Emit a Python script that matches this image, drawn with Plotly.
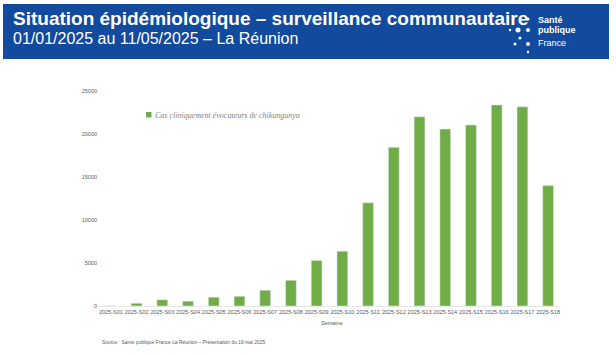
import plotly.graph_objects as go

weeks = ["2025-S01", "2025-S02", "2025-S03", "2025-S04", "2025-S05", "2025-S06",
         "2025-S07", "2025-S08", "2025-S09", "2025-S10", "2025-S11", "2025-S12",
         "2025-S13", "2025-S14", "2025-S15", "2025-S16", "2025-S17", "2025-S18"]
cases = [20, 320, 720, 560, 1020, 1130, 1830, 2990, 5300, 6370, 12000, 18450,
         22000, 20580, 21050, 23380, 23170, 14000]
y_ticks = [0, 5000, 10000, 15000, 20000, 25000]

series_name = "Cas cliniquement évocateurs de chikungunya"
title_line1 = "Situation épidémiologique – surveillance communautaire"
title_line2 = "01/01/2025 au 11/05/2025 – La Réunion"
source_text = "Source : Santé publique France La Réunion – Présentation du 19 mai 2025"

GREEN = "#70ad47"
BLUE = "#124a9d"

L, R, T, B = 98, 55, 91, 49
PW, PH = 616 - L - R, 355 - T - B

fig = go.Figure()
fig.add_trace(go.Bar(x=weeks, y=cases, name=series_name, marker_color=GREEN,
                     showlegend=False))

fig.update_layout(
    width=616, height=355,
    margin=dict(l=L, r=R, t=T, b=B),
    paper_bgcolor="white", plot_bgcolor="white",
    bargap=0.58,
    font=dict(family="Liberation Sans, Arial", color="#595959"),
    xaxis=dict(tickfont=dict(size=5.5, color="#595959"), showgrid=False,
               showline=True, linecolor="#e6e6e6", linewidth=1, ticks="",
               tickangle=0),
    yaxis=dict(range=[0, 25000], tickvals=y_ticks, tickformat="d",
               tickfont=dict(size=5.5, color="#595959"), showgrid=False,
               zeroline=False, showline=False, ticks=""),
)


def px_x(x):
    return (x - L) / float(PW)


def px_y(y):
    return (355 - B - y) / float(PH)


# Banner
fig.add_shape(type="rect", xref="paper", yref="paper",
              x0=px_x(3), x1=px_x(609), y0=px_y(59), y1=px_y(4),
              line_width=0, fillcolor=BLUE, layer="below")

fig.add_annotation(xref="paper", yref="paper", x=px_x(11), y=px_y(18),
                   xanchor="left", yanchor="middle", showarrow=False,
                   text="<b>" + title_line1 + "</b>",
                   font=dict(size=19, color="white", family="Liberation Sans, Arial"))
fig.add_annotation(xref="paper", yref="paper", x=px_x(11), y=px_y(38.5),
                   xanchor="left", yanchor="middle", showarrow=False,
                   text=title_line2,
                   font=dict(size=16, color="white", family="Liberation Sans, Arial"))

# Logo
for txt, yy, bold in [("Santé", 20, True), ("publique", 30.5, True), ("France", 43, False)]:
    fig.add_annotation(xref="paper", yref="paper", x=px_x(536), y=px_y(yy),
                       xanchor="left", yanchor="middle", showarrow=False,
                       text=("<b>%s</b>" % txt) if bold else txt,
                       font=dict(size=9, color="white", family="Liberation Sans, Arial"))
for cx, cy, r in [(528, 19, 1.5), (518, 30, 2.5), (528, 30, 2.0), (510, 30, 1.2),
                  (520, 38, 1.5), (515, 44, 1.5), (528, 44, 2.0), (528, 52, 1.2)]:
    fig.add_shape(type="circle", xref="paper", yref="paper",
                  x0=px_x(cx - r), x1=px_x(cx + r), y0=px_y(cy + r), y1=px_y(cy - r),
                  line_width=0, fillcolor="white")

# Legend
fig.add_shape(type="rect", xref="paper", yref="paper",
              x0=px_x(146), x1=px_x(151.5), y0=px_y(117.5), y1=px_y(112),
              line_width=0, fillcolor=GREEN)
fig.add_annotation(xref="paper", yref="paper", x=px_x(153), y=px_y(115),
                   xanchor="left", yanchor="middle", showarrow=False,
                   text="<i>" + series_name + "</i>",
                   font=dict(size=8, color="#7f7f7f", family="Liberation Serif, Times New Roman"))

# Axis title
fig.add_annotation(xref="paper", yref="paper", x=px_x(332), y=px_y(323),
                   xanchor="center", yanchor="middle", showarrow=False,
                   text="Semaine", font=dict(size=5.5, color="#595959"))

# Source
fig.add_annotation(xref="paper", yref="paper", x=px_x(100), y=px_y(342),
                   xanchor="left", yanchor="middle", showarrow=False,
                   text=source_text, font=dict(size=4.9, color="#595959"))

fig.write_html("out.html", config={"displayModeBar": False},
               post_script="document.body.style.margin='0';document.body.style.overflow='hidden';")
